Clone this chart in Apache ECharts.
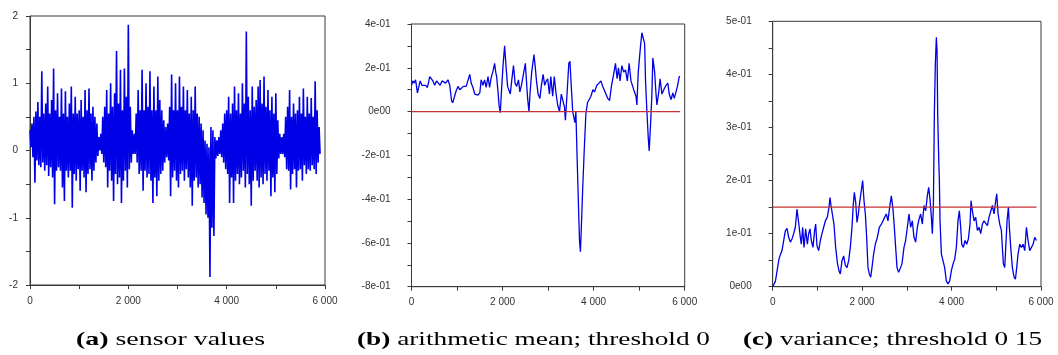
<!DOCTYPE html>
<html><head><meta charset="utf-8">
<script src="https://cdn.jsdelivr.net/npm/echarts@6/dist/echarts.min.js"></script>
<style>html,body{margin:0;padding:0;background:#fff;}#c{width:1058px;height:355px;}</style>
</head><body><div id="c"></div>
<script>
// ---------- DATA ----------
// (a) sensor values: envelope read per 40 samples (high at x, low at x+20)
const sensorStep = 40;
const sensorHigh = [
  0.30,0.40,0.50,0.58,0.72, 0.50,1.18,0.55,0.70,0.95, 0.55,0.75,1.22,0.60,0.85, 0.50,0.92,0.55,0.88,0.50,
  0.70,0.95,0.55,0.80,0.55, 0.60,0.75,0.50,0.90,0.60, 0.92,0.55,0.65,0.50,0.40, 0.20,0.25,0.50,0.65,0.90,
  0.55,1.00,0.65,0.85,1.48, 0.70,1.20,0.60,1.22,0.80, 1.87,0.65,0.30,0.25,0.55, 0.90,0.60,1.20,0.60,1.00,
  0.65,1.18,0.60,0.95,0.60, 1.10,0.75,0.60,0.45,0.35, 0.40,0.65,1.13,0.60,1.00, 0.60,1.10,0.65,0.95,0.60,
  0.90,0.55,0.80,0.60,0.95, 0.55,0.50,0.40,0.30,0.15, 0.10,0.05,0.35,0.30,0.20, 0.15,0.20,0.30,0.40,0.55,
  0.60,0.80,0.55,0.70,0.95, 0.60,0.85,0.55,1.00,0.70, 1.77,0.80,0.60,0.95,0.65, 0.75,0.95,1.05,0.70,1.10,
  0.65,0.90,0.60,0.80,0.55, 0.85,0.45,0.25,0.20,0.25, 0.50,0.65,0.90,0.50,0.70, 0.55,0.60,0.80,0.55,0.92,
  0.50,0.80,0.55,0.78,0.50, 1.03,0.60,0.35
];
const sensorLow = [
  0.05,-0.10,-0.48,-0.15,-0.22, -0.25,-0.18,-0.30,-0.22,-0.38, -0.25,-0.40,-0.80,-0.30,-0.25, -0.30,-0.55,-0.75,-0.30,-0.40,
  -0.30,-0.85,-0.35,-0.45,-0.28, -0.60,-0.30,-0.40,-0.62,-0.35, -0.28,-0.45,-0.30,-0.18,-0.08, 0.00,-0.05,-0.18,-0.25,-0.55,
  -0.30,-0.45,-0.75,-0.35,-0.50, -0.40,-0.78,-0.45,-0.30,-0.55, -0.28,-0.18,-0.05,-0.05,-0.18, -0.35,-0.30,-0.60,-0.30,-0.40,
  -0.35,-0.45,-0.78,-0.40,-0.68, -0.45,-0.35,-0.30,-0.18,-0.10, -0.15,-0.68,-0.40,-0.30,-0.45, -0.55,-0.35,-0.30,-0.45,-0.28,
  -0.40,-0.55,-0.82,-0.45,-0.40, -0.55,-0.50,-0.70,-0.78,-0.95, -1.00,-1.88,-1.15,-1.27,-0.12, -0.08,-0.05,-0.10,-0.18,-0.28,
  -0.35,-0.78,-0.40,-0.78,-0.45, -0.35,-0.50,-0.40,-0.30,-0.55, -0.35,-0.50,-0.82,-0.45,-0.30, -0.45,-0.55,-0.40,-0.50,-0.35,
  -0.45,-0.30,-0.68,-0.40,-0.62, -0.35,-0.12,-0.05,-0.05,-0.10, -0.28,-0.30,-0.58,-0.35,-0.28, -0.55,-0.30,-0.28,-0.45,-0.22,
  -0.35,-0.28,-0.30,-0.22,-0.28, -0.35,-0.18,-0.05
];

// (b) arithmetic mean
const meanX = [0,30,60,90,130,160,190,230,270,310,350,400,435,470,510,550,590,630,670,710,750,800,840,880,905,930,960,990,1020,1060,1100,1140,1200,1240,1280,1310,1350,1390,1430,1460,1500,1530,1570,1605,1640,1680,1715,1750,1790,1825,1850,1870,1900,1925,1950,1975,2010,2045,2075,2110,2170,2200,2240,2275,2310,2350,2380,2420,2460,2500,2525,2550,2580,2605,2640,2690,2715,2745,2780,2820,2850,2890,2925,2960,2990,3030,3060,3100,3136,3170,3210,3250,3290,3320,3360,3380,3410,3455,3480,3500,3540,3570,3590,3610,3640,3670,3690,3710,3735,3760,3795,3830,3865,3900,3940,3985,4020,4070,4120,4160,4200,4270,4310,4350,4390,4430,4460,4480,4515,4545,4580,4620,4660,4700,4740,4780,4820,4880,4930,4950,4980,5030,5060,5100,5120,5140,5170,5200,5220,5250,5280,5300,5340,5370,5390,5430,5460,5500,5540,5590,5630,5660,5700,5740,5770,5810,5840,5880,5900];
const meanY = [0.12,0.14,0.13,0.145,0.085,0.09,0.14,0.12,0.12,0.12,0.11,0.16,0.16,0.14,0.12,0.14,0.14,0.12,0.14,0.14,0.13,0.145,0.12,0.05,0.04,0.04,0.08,0.10,0.115,0.10,0.10,0.115,0.115,0.12,0.17,0.13,0.11,0.08,0.08,0.075,0.085,0.145,0.12,0.145,0.11,0.16,0.11,0.155,0.185,0.22,0.18,0.16,0.09,0.025,-0.005,0.09,0.21,0.30,0.21,0.115,0.08,0.14,0.21,0.13,0.115,0.145,0.09,0.125,0.13,0.22,0.14,0.06,0.0,0.09,0.18,0.26,0.21,0.14,0.08,0.06,0.115,0.17,0.12,0.14,0.15,0.08,0.16,0.07,0.16,0.09,0.03,0.0,0.08,0.08,0.02,-0.04,0.06,0.22,0.23,0.15,0.0,-0.03,-0.05,0.0,-0.23,-0.45,-0.59,-0.64,-0.5,-0.35,-0.17,-0.01,0.04,0.045,0.07,0.10,0.09,0.12,0.13,0.14,0.115,0.08,0.06,0.05,0.115,0.16,0.16,0.22,0.15,0.20,0.14,0.21,0.18,0.19,0.14,0.22,0.14,0.10,0.07,0.03,0.18,0.30,0.36,0.36,0.31,0.14,0.0,-0.12,-0.18,-0.06,0.08,0.245,0.18,0.08,0.03,0.09,0.15,0.08,0.10,0.12,0.13,0.08,0.055,0.085,0.06,0.09,0.115,0.16,0.16];
const meanThreshold = 0;

// (c) variance
const varX = [0,14,60,104,140,170,208,245,282,320,357,395,432,469,506,543,580,618,640,670,700,737,775,804,834,864,901,938,961,990,1028,1065,1102,1140,1177,1222,1259,1281,1304,1334,1370,1408,1445,1482,1512,1550,1587,1624,1661,1699,1736,1773,1803,1826,1856,1885,1915,1945,1982,2012,2042,2072,2101,2131,2161,2191,2220,2258,2295,2340,2385,2430,2467,2504,2541,2578,2616,2653,2690,2720,2750,2780,2817,2854,2891,2936,2973,3011,3048,3085,3122,3160,3197,3234,3272,3309,3346,3384,3421,3458,3488,3518,3548,3570,3593,3615,3637,3660,3675,3690,3712,3727,3742,3772,3809,3846,3883,3920,3958,3995,4033,4070,4107,4144,4174,4204,4227,4264,4301,4338,4376,4413,4435,4465,4502,4540,4577,4614,4652,4689,4726,4763,4801,4838,4875,4913,4950,4987,5010,5040,5077,5114,5136,5159,5189,5211,5241,5271,5293,5323,5360,5398,5428,5457,5487,5525,5562,5599,5637,5674,5711,5748,5786,5823,5860,5897];
const varY = [0.0,0.0,0.01,0.033,0.052,0.06,0.068,0.071,0.105,0.11,0.093,0.084,0.09,0.10,0.112,0.146,0.121,0.093,0.08,0.112,0.074,0.109,0.08,0.10,0.109,0.087,0.074,0.106,0.118,0.077,0.068,0.087,0.10,0.112,0.124,0.131,0.15,0.168,0.153,0.137,0.118,0.074,0.046,0.03,0.024,0.049,0.058,0.04,0.036,0.049,0.074,0.112,0.156,0.178,0.159,0.121,0.137,0.159,0.156,0.20,0.162,0.137,0.093,0.036,0.024,0.018,0.036,0.062,0.08,0.093,0.112,0.118,0.124,0.131,0.137,0.124,0.15,0.171,0.146,0.112,0.074,0.036,0.027,0.024,0.043,0.074,0.087,0.112,0.137,0.112,0.124,0.093,0.084,0.112,0.127,0.137,0.118,0.153,0.143,0.171,0.187,0.165,0.131,0.10,0.15,0.325,0.42,0.47,0.445,0.325,0.244,0.20,0.124,0.062,0.059,0.036,0.011,0.005,0.011,0.03,0.043,0.052,0.074,0.124,0.143,0.112,0.08,0.074,0.087,0.08,0.09,0.118,0.162,0.143,0.124,0.131,0.106,0.112,0.10,0.118,0.124,0.121,0.115,0.131,0.134,0.153,0.137,0.162,0.175,0.137,0.118,0.106,0.074,0.043,0.036,0.074,0.124,0.15,0.112,0.074,0.036,0.018,0.014,0.036,0.062,0.08,0.074,0.08,0.068,0.112,0.087,0.068,0.074,0.08,0.093,0.087];
const varThreshold = 0.15;
const thresholdEndX = 5900;

// axis ticks and labels
const xTicks = [0, 2000, 4000, 6000];
const xTickLabels = ['0', '2 000', '4 000', '6 000'];
const sensorTicks = [-2, -1, 0, 1, 2];
const sensorTickLabels = ['-2', '-1', '0', '1', '2'];
const meanTicks = [-0.8, -0.6, -0.4, -0.2, 0, 0.2, 0.4];
const meanTickLabels = ['-8e-01', '-6e-01', '-4e-01', '-2e-01', '0e00', '2e-01', '4e-01'];
const varTicks = [0, 0.1, 0.2, 0.3, 0.4, 0.5];
const varTickLabels = ['0e00', '1e-01', '2e-01', '3e-01', '4e-01', '5e-01'];

// captions
const captionTags = ['(a)', '(b)', '(c)'];
const captionTexts = ['sensor values', 'arithmetic mean; threshold 0', 'variance; threshold 0 15'];

// ---------- LAYOUT ----------
const grids = [
  { left: 30, top: 16, width: 295, height: 269 },
  { left: 411.5, top: 24, width: 273.2, height: 262.7 },
  { left: 772.7, top: 21.3, width: 268.3, height: 265.4 }
];
const yLabelMargin = [12, 21, 21];
const captionLeft = [76, 357, 743];
const captionWidth = [189, 353, 299];
const captionY = 340;
const capFont = '"Liberation Serif", serif';
const capSize = 19;

const BLUE = '#0000e6', RED = '#c83232', FRAME = '#3a3a3a', LABEL = '#333';

function lookup(ticks, labels) {
  return function (v) {
    for (let i = 0; i < ticks.length; i++) if (Math.abs(v - ticks[i]) < 1e-6) return labels[i];
    return '';
  };
}

const sensorData = [];
for (let i = 0; i < sensorHigh.length; i++) {
  sensorData.push([i * sensorStep, sensorHigh[i]]);
  sensorData.push([i * sensorStep + sensorStep / 2, sensorLow[i]]);
}
const meanData = meanX.map((x, i) => [x, meanY[i]]);
const varData = varX.map((x, i) => [x, varY[i]]);

const yDefs = [
  { min: -2, max: 2, interval: 1, ticks: sensorTicks, labels: sensorTickLabels },
  { min: -0.8, max: 0.4, interval: 0.2, ticks: meanTicks, labels: meanTickLabels },
  { min: 0, max: 0.5, interval: 0.1, ticks: varTicks, labels: varTickLabels }
];

const xAxes = grids.map((g, i) => ({
  type: 'value', gridIndex: i, min: 0, max: 6000, interval: 2000,
  axisLine: { show: true, onZero: false, lineStyle: { color: FRAME, width: 1 } },
  axisTick: { show: true, inside: false, length: 4, lineStyle: { color: FRAME } },
  minorTick: { show: true, splitNumber: 2, length: 4, lineStyle: { color: FRAME } },
  splitLine: { show: false },
  axisLabel: { margin: 11, fontSize: 10, fontFamily: 'Liberation Sans', color: LABEL,
    showMinLabel: true, showMaxLabel: true, formatter: lookup(xTicks, xTickLabels) }
}));
const yAxes = yDefs.map((d, i) => ({
  type: 'value', gridIndex: i, min: d.min, max: d.max, interval: d.interval,
  axisLine: { show: true, lineStyle: { color: FRAME, width: 1 } },
  axisTick: { show: true, inside: false, length: 4, lineStyle: { color: FRAME } },
  minorTick: { show: true, splitNumber: 2, length: 4, lineStyle: { color: FRAME } },
  splitLine: { show: false },
  axisLabel: { margin: yLabelMargin[i], fontSize: 10, fontFamily: 'Liberation Sans', color: LABEL,
    showMinLabel: true, showMaxLabel: true, formatter: lookup(d.ticks, d.labels) }
}));

const lineBase = { type: 'line', showSymbol: false, symbol: 'none', animation: false, sampling: null, silent: true };
const series = [
  Object.assign({}, lineBase, { xAxisIndex: 0, yAxisIndex: 0, data: sensorData, lineStyle: { color: BLUE, width: 1.6 } }),
  Object.assign({}, lineBase, { xAxisIndex: 1, yAxisIndex: 1, data: meanData, lineStyle: { color: BLUE, width: 1.3 } }),
  Object.assign({}, lineBase, { xAxisIndex: 1, yAxisIndex: 1, data: [[0, meanThreshold], [thresholdEndX, meanThreshold]], lineStyle: { color: RED, width: 1.2 }, z: 3 }),
  Object.assign({}, lineBase, { xAxisIndex: 2, yAxisIndex: 2, data: varData, lineStyle: { color: BLUE, width: 1.3 } }),
  Object.assign({}, lineBase, { xAxisIndex: 2, yAxisIndex: 2, data: [[0, varThreshold], [thresholdEndX, varThreshold]], lineStyle: { color: RED, width: 1.2 }, z: 3 })
];

// captions: measure and stretch horizontally to span the original width
const ctx = document.createElement('canvas').getContext('2d');
const graphics = captionTags.map((tag, i) => {
  ctx.font = 'bold ' + capSize + 'px ' + capFont;
  const w1 = ctx.measureText(tag).width;
  ctx.font = capSize + 'px ' + capFont;
  const w2 = ctx.measureText(' ' + captionTexts[i]).width;
  const sx = captionWidth[i] / (w1 + w2);
  return {
    type: 'text', x: captionLeft[i], y: captionY, scaleX: sx, silent: true,
    style: {
      x: 0, y: 0,
      text: '{b|' + tag + '} ' + captionTexts[i],
      fontFamily: capFont, fontSize: capSize, fill: '#000',
      textAlign: 'left', verticalAlign: 'middle',
      rich: { b: { fontWeight: 'bold', fontFamily: capFont, fontSize: capSize, fill: '#000' } }
    }
  };
});

const chart = echarts.init(document.getElementById('c'), null, { renderer: 'canvas', width: 1058, height: 355 });
chart.setOption({
  animation: false,
  backgroundColor: '#fff',
  grid: grids.map(g => Object.assign({ show: true, borderColor: FRAME, borderWidth: 1, backgroundColor: 'transparent', containLabel: false }, g)),
  xAxis: xAxes,
  yAxis: yAxes,
  series: series,
  graphic: graphics
});
</script></body></html>
